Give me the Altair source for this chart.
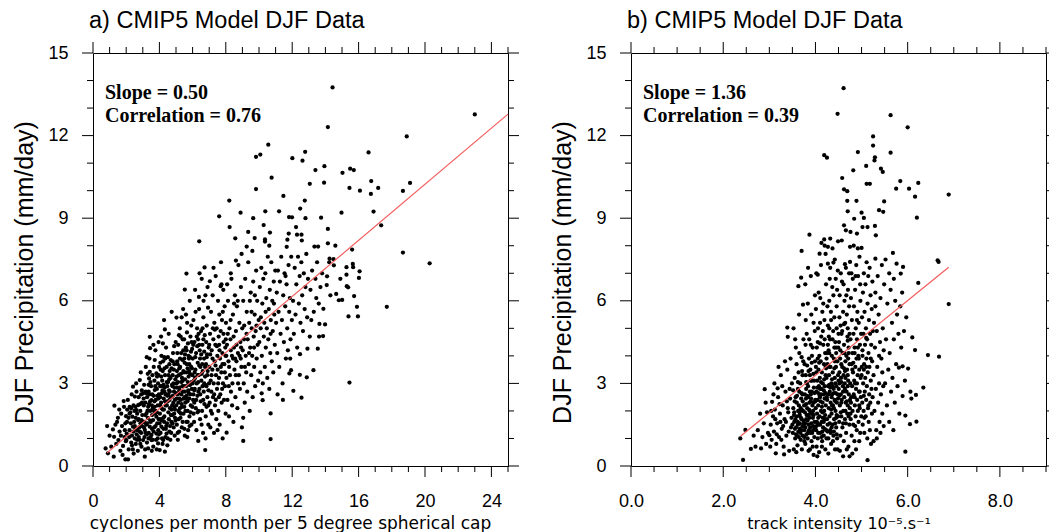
import altair as alt
import pandas as pd

# ---------------- data ----------------
# panel a: (cyclones per month per 5 degree cap, DJF precipitation mm/day)
a_points = [
    (0.76,0.64),(0.85,1.45),(0.9,0.46),(1.0,1.1),(1.2,1.33),(1.25,0.34),(1.27,1.06),(1.29,2.19),(1.4,0.8),(1.45,1.6),
    (1.53,0.94),(1.6,1.25),(1.65,0.55),(1.7,1.9),(1.75,1.45),(1.81,0.73),(1.85,2.36),(1.87,2.15),(1.9,1.05),(1.95,0.24),
    (1.95,1.55),(1.99,1.81),(1.98,0.9),(1.5,1.75),(1.1,0.7),(1.35,1.5),(1.68,1.1),(1.78,0.4),(1.92,1.3),(1.58,2.05),
    (2.01,0.94),(2.03,1.18),(2.11,0.24),(2.21,2.15),(2.37,1.79),(2.41,1.43),(2.41,2.88),(2.52,2.52),(2.52,1.0),(2.62,2.03),
    (2.72,1.67),(2.72,2.21),(2.82,1.25),(2.82,3.12),(2.92,1.67),(2.92,0.7),(2.05,1.6),(2.1,2.4),(2.15,0.6),(2.2,1.3),
    (2.25,1.95),(2.3,0.85),(2.33,2.6),(2.35,1.1),(2.45,0.45),(2.48,1.6),(2.5,2.0),(2.55,1.35),(2.58,0.8),(2.6,3.0),
    (2.63,1.15),(2.66,1.9),(2.7,0.55),(2.75,2.5),(2.78,1.4),(2.8,0.95),(2.85,2.0),(2.88,3.4),(2.9,1.2),(2.95,2.3),
    (2.97,1.85),(2.14,1.75),(2.28,1.55),(2.44,2.2),(2.57,1.75),(2.68,1.3),(2.86,1.55),(2.06,2.05),(2.4,0.6),(2.62,2.7),
    (2.76,1.05),(2.94,2.75),(2.18,1.05),(2.52,1.45),(2.84,2.25),
    (3.02,0.94),(3.02,2.64),(3.12,0.34),(3.12,1.31),(3.22,1.91),(3.22,2.64),(3.32,2.15),(3.32,0.64),(3.38,3.18),(3.42,3.42),
    (3.42,4.69),(3.44,4.28),(3.42,1.43),(3.52,2.39),(3.52,0.94),(3.52,1.13),(3.62,1.67),(3.72,2.76),(3.72,2.15),(3.72,3.85),
    (3.82,1.18),(3.82,3.36),(3.82,1.79),(3.92,0.82),(3.92,3.0),(3.98,3.6),(3.05,1.6),(3.08,2.95),(3.1,1.05),(3.15,2.3),
    (3.18,3.6),(3.2,1.5),(3.25,0.85),(3.28,2.0),(3.3,1.75),(3.35,2.7),(3.36,1.2),(3.4,3.9),(3.45,2.0),(3.48,1.6),
    (3.5,2.9),(3.55,1.35),(3.58,3.3),(3.6,2.1),(3.63,0.7),(3.65,2.55),(3.68,1.4),(3.7,3.1),(3.74,1.9),(3.76,4.2),
    (3.78,2.4),(3.8,0.95),(3.85,2.8),(3.87,1.55),(3.9,2.2),(3.93,1.3),(3.95,4.5),(3.97,2.6),(3.06,2.2),(3.16,1.2),
    (3.26,2.5),(3.34,1.0),(3.46,3.05),(3.56,1.85),(3.66,3.6),(3.76,2.0),(3.86,3.25),(3.96,1.7),(3.14,0.6),(3.54,0.55),
    (3.24,3.95),(3.64,4.4),(3.84,0.6),(3.44,2.35),(3.94,2.45),
    (3.07,1.4),(3.17,2.7),(3.27,1.55),(3.37,2.25),(3.47,1.05),(3.57,2.6),(3.67,2.0),(3.77,1.45),(3.87,2.55),(3.97,1.15),
    (4.02,0.58),(4.1,4.7),(4.12,1.43),(4.23,0.94),(4.33,0.52),(4.33,4.96),(4.43,1.18),(4.03,1.9),(4.05,2.9),(4.07,1.2),
    (4.08,3.5),(4.1,2.3),(4.12,4.0),(4.14,1.65),(4.15,2.65),(4.17,3.1),(4.19,0.8),(4.2,2.05),(4.22,3.8),(4.24,1.35),
    (4.26,2.45),(4.28,5.3),(4.3,1.8),(4.32,2.85),(4.34,3.3),(4.36,1.05),(4.38,2.2),(4.4,4.3),(4.42,2.6),(4.44,3.6),
    (4.46,1.55),(4.48,0.75),(4.5,2.35),(4.52,3.05),(4.54,1.95),(4.56,4.8),(4.58,2.75),(4.6,1.25),(4.62,3.45),(4.64,2.1),
    (4.66,0.95),(4.68,3.85),(4.7,2.5),(4.72,1.6),(4.74,5.6),(4.76,2.95),(4.78,1.85),(4.8,3.3),(4.82,4.1),(4.84,2.3),
    (4.86,1.4),(4.88,2.7),(4.9,3.7),(4.92,1.1),(4.94,2.05),(4.96,3.15),(4.98,4.5),(4.05,2.5),(4.11,3.25),(4.16,1.0),
    (4.21,4.45),(4.27,2.05),(4.31,3.55),(4.37,2.6),(4.41,1.45),(4.47,2.9),(4.51,3.95),(4.57,1.7),(4.61,2.4),(4.67,3.2),
    (4.71,1.2),(4.77,2.2),(4.81,2.55),(4.87,3.5),(4.91,2.85),(4.97,1.65),(4.13,2.1),(4.29,1.6),(4.45,2.2),(4.63,2.7),
    (4.79,1.55),(4.93,2.4),(4.35,3.9),(4.55,3.3),(4.73,3.55),(4.89,4.35),(4.06,3.75),(4.25,2.95),
    (4.09,1.7),(4.19,2.75),(4.29,3.95),(4.39,1.35),(4.49,2.55),(4.59,3.15),(4.69,1.85),(4.79,2.9),(4.89,1.9),(4.99,2.65),
    (5.03,5.39),(5.53,6.41),(5.63,6.99),(5.01,2.2),(5.03,3.0),(5.05,1.5),(5.07,3.8),(5.09,2.6),(5.11,0.95),(5.13,4.4),
    (5.15,2.0),(5.17,3.3),(5.19,1.25),(5.21,2.85),(5.23,5.0),(5.25,3.6),(5.27,1.75),(5.29,2.4),(5.31,4.1),(5.33,3.05),
    (5.35,1.4),(5.37,2.15),(5.39,3.85),(5.41,2.7),(5.43,5.7),(5.45,1.9),(5.47,3.4),(5.49,4.6),(5.51,2.5),(5.53,1.1),
    (5.55,3.15),(5.57,2.0),(5.59,4.3),(5.61,2.9),(5.63,1.6),(5.65,3.7),(5.67,5.2),(5.69,2.35),(5.71,3.05),(5.73,1.3),
    (5.75,4.0),(5.77,2.65),(5.79,3.45),(5.81,1.8),(5.83,6.0),(5.85,2.95),(5.87,4.7),(5.89,2.2),(5.91,3.6),(5.93,1.5),
    (5.95,2.8),(5.97,4.25),(5.99,3.3),(5.04,2.45),(5.08,4.1),(5.12,3.05),(5.16,1.7),(5.2,3.55),(5.24,2.1),(5.28,4.7),
    (5.32,2.6),(5.36,3.2),(5.4,1.6),(5.44,4.2),(5.48,2.9),(5.52,3.75),(5.56,2.3),(5.6,5.5),(5.64,2.55),(5.68,1.05),
    (5.72,4.45),(5.76,3.25),(5.8,2.45),(5.84,3.95),(5.88,1.95),(5.92,5.1),(5.96,3.55),(5.06,3.45),(5.14,2.3),(5.22,1.95),
    (5.3,3.35),(5.38,2.9),(5.46,2.45),(5.54,4.05),(5.62,3.4),(5.7,2.0),(5.78,3.9),(5.86,2.6),(5.94,3.05),(5.18,4.75),
    (5.34,5.4),(5.5,1.35),(5.66,4.85),(5.82,1.45),(5.98,2.15),
    (5.1,3.7),(5.2,2.75),(5.3,1.9),(5.4,3.1),(5.5,3.9),(5.6,2.45),(5.7,3.55),(5.8,2.95),(5.9,4.15),(5.05,2.85),
    (6.34,0.91),(6.4,8.16),(6.38,6.14),(6.72,7.21),(6.76,0.58),(6.01,3.9),(6.03,2.4),(6.05,5.3),(6.07,3.1),(6.09,1.6),
    (6.11,4.5),(6.13,2.8),(6.15,6.4),(6.17,3.5),(6.19,2.1),(6.21,4.1),(6.23,1.3),(6.25,3.0),(6.27,5.0),(6.29,2.55),
    (6.31,3.75),(6.33,4.6),(6.35,2.0),(6.37,3.3),(6.39,5.7),(6.41,2.8),(6.43,4.2),(6.45,1.7),(6.47,3.6),(6.49,2.35),
    (6.51,4.9),(6.53,3.1),(6.55,6.8),(6.57,2.0),(6.59,4.4),(6.61,3.45),(6.63,1.2),(6.65,5.4),(6.67,2.7),(6.69,3.9),
    (6.71,2.25),(6.73,4.75),(6.75,3.25),(6.77,6.2),(6.79,1.8),(6.81,3.7),(6.83,2.9),(6.85,5.1),(6.87,4.05),(6.89,2.5),
    (6.91,3.45),(6.93,5.75),(6.95,1.5),(6.97,4.3),(6.99,3.0),(6.04,4.4),(6.1,2.75),(6.16,3.95),(6.22,2.4),(6.28,4.35),
    (6.34,3.05),(6.4,3.65),(6.46,2.6),(6.52,4.05),(6.58,3.7),(6.64,2.4),(6.7,4.15),(6.76,2.95),(6.82,4.5),(6.88,3.3),
    (6.94,2.2),(6.06,1.9),(6.18,5.6),(6.3,1.95),(6.42,7.0),(6.54,1.5),(6.66,6.0),(6.78,1.0),(6.9,6.5),(6.12,3.4),
    (6.36,4.8),(6.6,5.0),(6.84,2.15),
    (7.04,6.71),(7.6,9.07),(7.69,6.53),(7.01,3.6),(7.03,2.3),(7.05,4.8),(7.07,1.4),(7.09,3.1),(7.11,5.6),(7.13,2.7),
    (7.15,4.2),(7.17,1.9),(7.19,3.5),(7.21,6.2),(7.23,2.5),(7.25,4.6),(7.27,3.0),(7.29,1.2),(7.31,5.2),(7.33,3.8),
    (7.35,2.2),(7.37,4.4),(7.39,6.9),(7.41,3.3),(7.43,1.7),(7.45,5.0),(7.47,2.8),(7.49,4.0),(7.51,3.5),(7.53,6.0),
    (7.55,2.0),(7.57,4.7),(7.59,3.2),(7.61,5.5),(7.63,1.5),(7.65,3.9),(7.67,2.6),(7.69,4.9),(7.71,7.4),(7.73,3.4),
    (7.75,2.3),(7.77,5.3),(7.79,4.1),(7.81,1.0),(7.83,3.0),(7.85,6.4),(7.87,4.5),(7.89,2.4),(7.91,3.7),(7.93,5.8),
    (7.95,2.9),(7.97,4.3),(7.99,1.9),(7.06,4.05),(7.14,3.3),(7.22,5.0),(7.3,2.6),(7.38,3.65),(7.46,4.35),(7.54,3.0),
    (7.62,4.2),(7.7,3.6),(7.78,2.8),(7.86,4.8),(7.94,3.4),(7.1,2.0),(7.34,4.95),(7.58,2.5),(7.82,5.6),(7.26,7.2),
    (7.5,1.3),(7.74,6.6),(7.98,4.0),
    (8.05,1.21),(8.21,9.64),(8.23,8.68),(8.57,8.27),(8.61,7.46),(8.89,9.2),(8.01,5.2),(8.04,3.2),(8.07,4.4),(8.1,2.4),
    (8.13,6.0),(8.16,3.8),(8.19,1.8),(8.22,5.0),(8.25,3.3),(8.28,4.6),(8.31,2.7),(8.34,6.8),(8.37,4.0),(8.4,3.0),
    (8.43,5.5),(8.46,1.6),(8.49,4.3),(8.52,3.5),(8.55,6.2),(8.58,2.5),(8.61,4.9),(8.64,3.8),(8.67,5.8),(8.7,2.1),
    (8.73,4.1),(8.76,7.3),(8.79,3.3),(8.82,5.2),(8.85,2.8),(8.88,4.5),(8.91,6.5),(8.94,3.6),(8.97,1.4),(8.99,5.0),
    (8.03,4.0),(8.12,4.8),(8.2,3.6),(8.29,5.3),(8.38,2.2),(8.47,4.7),(8.56,3.9),(8.65,4.4),(8.74,3.0),(8.83,4.0),
    (8.92,4.3),(8.08,6.6),(8.3,7.0),(8.5,5.9),(8.72,6.0),(8.95,7.7),(8.18,2.9),(8.44,3.9),
    (9.05,0.91),(9.05,1.75),(9.26,7.97),(9.6,7.81),(9.74,8.28),(9.82,11.23),(9.82,10.06),(9.02,4.2),(9.05,6.0),(9.08,3.0),
    (9.11,5.1),(9.14,2.3),(9.17,6.8),(9.2,4.0),(9.23,3.4),(9.26,5.6),(9.29,2.7),(9.32,4.6),(9.35,7.4),(9.38,3.7),
    (9.41,5.2),(9.44,2.0),(9.47,4.3),(9.5,6.3),(9.53,3.3),(9.56,5.0),(9.59,4.0),(9.62,2.5),(9.65,6.7),(9.68,4.7),
    (9.71,3.6),(9.74,5.5),(9.77,2.9),(9.8,4.9),(9.83,7.1),(9.86,3.9),(9.89,6.0),(9.92,4.4),(9.95,3.1),(9.98,5.3),
    (9.1,4.6),(9.25,4.8),(9.4,4.1),(9.55,5.6),(9.7,4.3),(9.85,5.1),(9.15,3.6),(9.45,6.0),(9.75,6.2),(9.35,8.5),(9.65,9.0),
    (10.08,11.31),(10.16,2.64),(10.22,2.39),(10.28,8.75),(10.36,8.23),(10.36,8.15),(10.38,9.25),(10.56,11.67),(10.62,8.0),(10.66,8.48),
    (10.7,1.91),(10.7,0.98),(10.76,10.47),(10.02,4.5),(10.05,6.5),(10.08,3.4),(10.11,5.4),(10.14,7.2),(10.17,4.0),(10.2,5.9),
    (10.23,3.0),(10.26,6.8),(10.29,4.7),(10.32,5.2),(10.35,3.6),(10.38,7.0),(10.41,4.3),(10.44,6.1),(10.47,5.0),(10.5,3.2),
    (10.53,7.6),(10.56,4.6),(10.59,5.7),(10.62,2.8),(10.65,6.4),(10.68,4.1),(10.71,5.3),(10.74,7.4),(10.77,3.8),(10.8,6.0),
    (10.83,4.9),(10.86,3.4),(10.89,6.7),(10.92,5.5),(10.95,4.4),(10.98,7.1),(10.1,5.0),(10.4,5.6),(10.7,4.8),(10.9,5.9),
    (11.21,9.25),(11.47,9.81),(11.67,7.96),(11.71,8.22),(11.79,8.44),(11.81,9.04),(11.83,3.36),(11.93,3.48),(11.99,9.03),(11.03,5.2),
    (11.07,6.3),(11.1,4.1),(11.14,7.1),(11.18,5.6),(11.22,3.6),(11.26,6.7),(11.3,4.8),(11.34,7.6),(11.38,5.3),(11.42,3.0),
    (11.46,6.2),(11.5,4.5),(11.54,7.0),(11.58,5.8),(11.62,3.9),(11.66,6.6),(11.7,5.0),(11.74,4.2),(11.78,7.3),(11.82,5.6),
    (11.86,6.1),(11.9,4.6),(11.94,7.6),(11.98,5.3),(11.12,2.6),(11.44,2.4),(11.6,6.9),(11.88,3.9),
    (12.01,11.18),(12.07,2.73),(12.23,8.68),(12.29,8.4),(12.46,3.31),(12.47,4.06),(12.48,9.35),(12.56,8.4),(12.56,2.48),(12.58,8.19),
    (12.62,11.09),(12.76,9.64),(12.78,11.41),(12.8,9.0),(12.88,3.22),(12.92,4.26),(12.05,6.0),(12.1,4.8),(12.15,7.2),(12.2,5.5),
    (12.25,6.6),(12.3,4.3),(12.35,7.6),(12.4,5.9),(12.45,6.9),(12.5,5.2),(12.55,7.4),(12.6,6.2),(12.65,4.9),(12.7,7.0),
    (12.75,5.7),(12.8,6.5),(12.85,7.7),(12.9,5.4),(12.95,6.8),
    (13.06,10.25),(13.06,4.7),(13.28,3.48),(13.34,7.97),(13.4,10.75),(13.54,4.26),(13.56,7.97),(13.6,5.9),(13.62,4.7),(13.64,5.16),
    (13.74,9.02),(13.86,4.72),(13.88,5.71),(13.92,10.29),(13.94,10.89),(13.98,5.14),(13.1,6.4),(13.2,7.1),(13.3,5.6),(13.4,6.8),
    (13.5,7.4),(13.7,6.5),(13.8,7.0),(13.15,5.3),(13.45,6.1),
    (14.08,6.57),(14.1,6.89),(14.15,8.61),(14.15,8.09),(14.15,12.31),(14.23,7.4),(14.25,7.53),(14.43,13.75),(14.49,7.51),(14.51,7.29),
    (14.65,6.25),(14.81,6.02),(14.97,9.2),(15.01,6.03),(15.03,10.65),(15.27,7.22),(15.27,6.95),(15.29,6.53),(15.37,6.49),(15.39,5.43),
    (15.45,10.1),(15.45,3.03),(15.49,10.8),(15.61,7.86),(15.65,7.34),(15.67,7.22),(15.71,10.75),(15.73,6.17),(15.9,5.78),(15.96,5.43),
    (16.02,6.83),(16.06,7.07),(16.08,10.0),(16.6,11.39),(16.74,9.88),(16.76,10.35),(16.9,9.24),(17.18,10.1),(17.36,8.74),(17.7,5.78),
    (18.67,9.99),(18.67,7.75),(18.9,11.97),(19.1,10.28),(20.28,7.36),(23.0,12.77),(14.3,6.2),(14.6,8.0),(14.9,6.8),
    # extra points in the dense core
    (2.2,1.9),(2.35,0.75),(2.45,1.25),(2.55,2.15),(2.65,0.95),(2.75,1.7),(2.85,0.8),(2.95,1.45),(3.05,2.45),(3.15,1.85),
    (3.25,1.15),(3.35,2.95),(3.45,1.65),(3.55,2.2),(3.65,1.25),(3.75,2.9),(3.85,1.95),(3.95,3.3),(4.04,2.2),(4.14,2.9),
    (4.24,1.75),(4.34,2.35),(4.44,3.05),(4.54,2.6),(4.64,1.45),(4.74,2.05),(4.84,3.0),(4.94,1.75),(5.04,3.25),(5.14,2.65),
    (5.24,3.9),(5.34,2.25),(5.44,3.45),(5.54,2.7),(5.64,4.2),(5.74,2.75),(5.84,3.35),(5.94,4.5),(6.05,2.6),(6.15,3.2),
    (6.25,4.7),(6.35,2.7),(6.45,3.9),(6.55,3.35),(6.65,4.6),(6.75,3.6),(6.85,3.95),(6.95,2.75),(2.3,2.1),(2.9,2.6),
    (3.3,3.35),(3.6,0.95),(3.9,1.0),(4.2,3.45),(4.5,1.0),(4.8,3.8),(5.1,1.2),(5.4,4.6),(5.7,1.6),(6.0,3.0),
    (6.3,3.3),(6.6,2.9),(3.1,1.6),(3.4,2.6),(3.7,2.35),(4.0,1.55),(4.3,2.7),(4.6,3.7),(4.9,2.15),(5.2,2.45),
    (5.5,2.15),(5.8,3.7),(6.1,2.3),(6.4,4.4),(6.7,3.0),(7.0,4.4),(7.2,3.9),(7.4,2.4),(7.6,4.4),(7.8,3.7),
    (8.0,4.6),(8.3,4.2),(8.6,3.3),(8.9,3.9),
]

# panel b: (track intensity 1e-5 s-1, DJF precipitation mm/day)
b_points = [
    (2.37,1.0),(2.43,0.22),(2.48,1.31),(2.82,0.64),(2.9,2.79),(2.6,0.62),(2.7,0.7),(2.75,1.3),(2.85,1.05),(2.88,1.55),
    (2.93,0.8),(2.95,1.95),(2.97,1.2),(2.92,2.3),(2.8,1.9),(2.66,1.1),
    (3.0,1.12),(3.02,0.7),(3.06,2.33),(3.14,0.46),(3.18,2.82),(3.32,0.42),(3.39,5.03),(3.4,4.69),(3.03,1.5),(3.05,0.95),
    (3.08,1.8),(3.1,1.25),(3.12,2.05),(3.15,0.8),(3.17,1.55),(3.19,2.5),(3.21,1.05),(3.23,1.9),(3.25,3.3),(3.27,1.35),
    (3.29,2.2),(3.31,0.7),(3.33,1.7),(3.35,2.7),(3.37,1.1),(3.39,3.5),(3.41,1.95),(3.43,0.55),(3.45,2.45),(3.47,1.4),
    (3.49,3.0),(3.04,2.0),(3.11,3.0),(3.16,1.15),(3.22,2.25),(3.26,0.95),(3.3,1.45),(3.34,3.8),(3.38,2.35),(3.42,1.25),
    (3.46,3.9),(3.48,1.75),(3.13,1.7),(3.28,2.9),(3.36,1.6),(3.44,2.8),(3.2,3.6),(3.09,2.6),(3.24,1.6),(3.4,2.1),
    (3.56,4.6),(3.63,6.53),(3.69,6.84),(3.7,7.81),(3.73,5.86),(3.51,1.2),(3.52,2.1),(3.53,0.6),(3.54,1.6),(3.55,3.2),
    (3.56,1.0),(3.57,2.5),(3.58,1.4),(3.59,3.7),(3.6,1.8),(3.61,0.75),(3.62,2.8),(3.63,1.25),(3.64,2.2),(3.65,4.1),
    (3.66,1.55),(3.67,3.0),(3.68,0.95),(3.69,2.45),(3.7,1.7),(3.71,3.45),(3.72,1.1),(3.73,2.0),(3.74,4.6),(3.745,1.45),
    (3.515,2.75),(3.535,1.85),(3.555,1.35),(3.575,4.3),(3.595,2.3),(3.615,1.6),(3.635,3.4),(3.655,1.95),(3.675,1.2),(3.695,2.65),
    (3.715,1.45),(3.735,3.8),(3.525,5.0),(3.585,0.5),(3.645,5.5),(3.705,0.6),(3.565,1.7),(3.625,2.0),(3.685,1.75),(3.725,2.35),
    (3.58,1.15),(3.62,1.5),(3.66,1.85),(3.7,1.3),(3.74,1.65),(3.6,2.55),(3.68,2.1),(3.54,1.95),(3.64,1.05),(3.72,2.6),
    (3.87,8.4),(3.76,1.3),(3.77,2.6),(3.78,0.8),(3.79,3.3),(3.8,1.7),(3.81,4.8),(3.82,2.1),(3.83,1.0),(3.84,2.9),
    (3.85,1.5),(3.86,3.9),(3.87,2.3),(3.88,0.6),(3.89,3.5),(3.9,1.9),(3.91,5.5),(3.92,2.7),(3.93,1.2),(3.94,4.3),
    (3.95,2.0),(3.96,0.4),(3.97,3.1),(3.98,1.6),(3.99,6.2),(3.755,2.2),(3.765,3.7),(3.775,1.55),(3.785,4.4),(3.795,2.45),
    (3.805,1.15),(3.815,3.0),(3.825,1.85),(3.835,5.9),(3.845,2.5),(3.855,1.25),(3.865,4.6),(3.875,2.0),(3.885,1.4),(3.895,3.1),
    (3.905,2.45),(3.915,0.9),(3.925,4.0),(3.935,2.2),(3.945,1.75),(3.955,3.35),(3.965,2.85),(3.975,1.05),(3.985,4.9),(3.995,2.4),
    (3.77,1.95),(3.8,2.8),(3.83,1.65),(3.86,2.05),(3.89,1.2),(3.92,3.75),(3.95,1.45),(3.98,2.65),(3.78,6.6),(3.84,7.2),
    (3.9,6.9),(3.96,5.2),(3.82,3.65),(3.88,2.7),(3.94,0.7),(3.76,0.9),(3.99,3.8),(3.91,1.55),(3.85,0.55),(3.79,5.3),
    (3.78,1.4),(3.81,1.85),(3.84,1.2),(3.87,1.75),(3.9,2.35),(3.93,1.9),(3.96,2.3),(3.99,1.35),(3.8,3.05),(3.88,3.3),
    (4.05,6.95),(4.09,7.71),(4.19,8.23),(4.19,11.29),(4.25,11.2),(4.005,2.1),(4.01,3.6),(4.015,1.3),(4.02,2.7),(4.025,0.7),
    (4.03,4.3),(4.035,1.9),(4.04,3.1),(4.045,2.4),(4.05,1.0),(4.055,5.0),(4.06,2.2),(4.065,3.5),(4.07,1.5),(4.075,2.9),
    (4.08,0.5),(4.085,4.0),(4.09,1.8),(4.095,3.2),(4.1,2.5),(4.105,6.1),(4.11,1.2),(4.115,3.8),(4.12,2.0),(4.125,4.7),
    (4.13,2.8),(4.135,1.6),(4.14,3.4),(4.145,0.9),(4.15,5.6),(4.155,2.3),(4.16,3.0),(4.165,1.4),(4.17,4.4),(4.175,2.6),
    (4.18,1.1),(4.185,3.7),(4.19,2.0),(4.195,5.3),(4.2,2.9),(4.205,1.7),(4.21,4.1),(4.215,0.6),(4.22,3.3),(4.225,2.2),
    (4.23,6.6),(4.235,1.3),(4.24,3.9),(4.245,2.5),(4.01,5.7),(4.03,1.6),(4.06,2.65),(4.08,3.75),(4.11,2.35),(4.13,1.05),
    (4.16,4.9),(4.18,2.75),(4.21,1.85),(4.23,3.55),(4.02,7.0),(4.07,6.3),(4.12,7.3),(4.17,5.9),(4.22,7.7),(4.04,0.35),
    (4.14,0.7),(4.24,1.0),(4.09,2.55),(4.19,3.15),(4.15,1.95),(4.05,4.5),(4.2,4.6),(4.1,5.2),(4.13,8.1),(4.2,8.0),
    (4.02,1.45),(4.06,1.75),(4.1,1.5),(4.14,2.15),(4.18,1.6),(4.22,2.65),(4.04,2.85),(4.12,3.05),(4.2,1.35),(4.24,3.2),
    (4.27,7.96),(4.27,7.35),(4.32,8.26),(4.37,7.9),(4.39,7.39),(4.48,12.79),(4.49,8.16),(4.255,2.4),(4.26,3.7),(4.265,1.5),
    (4.27,5.1),(4.275,2.9),(4.28,1.0),(4.285,4.2),(4.29,2.1),(4.295,3.3),(4.3,6.0),(4.305,1.8),(4.31,2.7),(4.315,4.6),
    (4.32,1.3),(4.325,3.6),(4.33,2.3),(4.335,5.6),(4.34,0.8),(4.345,3.0),(4.35,1.9),(4.355,4.0),(4.36,2.6),(4.365,6.5),
    (4.37,1.5),(4.375,3.4),(4.38,2.2),(4.385,4.9),(4.39,1.1),(4.395,2.8),(4.4,3.9),(4.405,1.7),(4.41,5.4),(4.415,2.4),
    (4.42,3.2),(4.425,0.6),(4.43,4.5),(4.435,2.0),(4.44,6.8),(4.445,3.6),(4.45,1.4),(4.455,2.9),(4.46,5.0),(4.465,2.3),
    (4.47,1.0),(4.475,3.8),(4.48,2.6),(4.485,7.1),(4.49,1.8),(4.495,4.3),(4.26,5.8),(4.29,4.7),(4.31,6.8),(4.34,5.3),
    (4.36,3.15),(4.39,6.2),(4.41,4.3),(4.44,2.65),(4.46,5.8),(4.49,3.3),(4.28,0.45),(4.33,1.2),(4.38,0.9),(4.43,1.55),
    (4.48,0.6),(4.3,3.6),(4.35,2.5),(4.4,2.1),(4.45,4.1),(4.42,7.5),(4.32,7.2),(4.47,6.4),(4.27,4.4),(4.37,4.6),(4.43,3.0),
    (4.28,2.6),(4.31,1.55),(4.34,2.05),(4.37,2.9),(4.4,1.25),(4.43,2.35),(4.46,1.85),(4.49,2.45),(4.3,4.1),(4.41,3.55),
    (4.58,10.46),(4.57,8.19),(4.61,13.72),(4.62,10.05),(4.62,8.74),(4.64,7.33),(4.66,8.56),(4.69,9.98),(4.69,9.63),(4.7,9.25),
    (4.75,7.96),(4.75,7.41),(4.505,2.8),(4.51,4.5),(4.515,1.6),(4.52,3.4),(4.525,6.2),(4.53,2.2),(4.535,3.9),(4.54,1.1),
    (4.545,5.1),(4.55,2.6),(4.555,3.2),(4.56,1.8),(4.565,4.8),(4.57,2.4),(4.575,6.7),(4.58,3.6),(4.585,1.4),(4.59,4.1),
    (4.595,2.9),(4.6,5.6),(4.605,2.0),(4.61,3.3),(4.615,0.9),(4.62,4.4),(4.625,2.5),(4.63,6.0),(4.635,3.0),(4.64,1.7),
    (4.645,5.2),(4.65,3.8),(4.655,2.3),(4.66,7.2),(4.665,1.2),(4.67,4.0),(4.675,2.7),(4.68,5.5),(4.685,3.5),(4.69,1.9),
    (4.695,4.7),(4.7,2.2),(4.705,6.4),(4.71,3.1),(4.715,0.7),(4.72,4.3),(4.725,2.6),(4.73,5.8),(4.735,1.5),(4.74,3.7),
    (4.745,2.1),(4.52,5.4),(4.55,7.0),(4.58,4.9),(4.61,6.6),(4.64,2.8),(4.67,6.2),(4.7,5.0),(4.73,7.0),(4.53,0.55),
    (4.6,0.35),(4.68,0.6),(4.74,0.35),(4.56,3.7),(4.63,4.1),(4.71,3.9),
    (4.52,2.55),(4.56,3.05),(4.6,1.55),(4.64,3.45),(4.68,2.35),(4.72,1.8),(4.54,4.2),(4.62,5.15),(4.7,2.9),(4.74,4.8),
    (4.76,8.5),(4.82,10.74),(4.84,8.98),(4.89,9.63),(4.9,8.44),(4.92,11.4),(5.0,7.92),(5.0,9.2),(4.755,3.0),(4.76,4.6),
    (4.765,1.7),(4.77,6.1),(4.775,2.5),(4.78,3.7),(4.785,1.1),(4.79,5.3),(4.795,2.9),(4.8,4.1),(4.805,2.0),(4.81,6.8),
    (4.815,3.4),(4.82,1.5),(4.825,4.8),(4.83,2.6),(4.835,5.8),(4.84,3.1),(4.845,0.9),(4.85,4.3),(4.855,2.2),(4.86,6.4),
    (4.865,3.6),(4.87,1.8),(4.875,5.0),(4.88,2.8),(4.885,7.3),(4.89,3.9),(4.895,1.3),(4.9,4.6),(4.905,2.4),(4.91,5.6),
    (4.915,3.3),(4.92,2.0),(4.925,6.9),(4.93,4.0),(4.935,1.6),(4.94,5.2),(4.945,2.7),(4.95,3.5),(4.955,7.6),(4.96,2.1),
    (4.965,4.4),(4.97,1.2),(4.975,6.0),(4.98,3.2),(4.985,2.5),(4.99,4.8),(4.995,1.8),(4.78,7.0),(4.83,8.0),(4.87,6.9),
    (4.92,7.9),(4.97,6.6),(4.8,0.45),(4.88,0.6),(4.95,0.9),(4.77,2.3),(4.86,3.0),(4.94,3.9),
    (5.02,8.68),(5.05,9.01),(5.1,10.9),(5.11,10.25),(5.13,8.68),(5.13,0.21),(5.18,10.25),(5.25,11.97),(5.25,11.64),(5.005,3.6),
    (5.01,5.4),(5.015,2.3),(5.02,4.2),(5.025,1.5),(5.03,6.3),(5.035,3.0),(5.04,4.8),(5.045,2.0),(5.05,7.0),(5.055,3.7),
    (5.06,1.2),(5.065,5.6),(5.07,2.7),(5.075,4.4),(5.08,3.2),(5.085,6.6),(5.09,1.8),(5.095,5.0),(5.1,2.4),(5.105,3.9),
    (5.11,7.4),(5.115,2.9),(5.12,4.6),(5.125,1.0),(5.13,5.9),(5.135,3.4),(5.14,2.1),(5.145,6.9),(5.15,4.1),(5.155,1.6),
    (5.16,5.3),(5.165,2.6),(5.17,3.6),(5.175,7.2),(5.18,1.3),(5.185,4.8),(5.19,2.3),(5.195,6.2),(5.2,3.1),(5.205,0.8),
    (5.21,4.4),(5.215,2.8),(5.22,5.7),(5.225,1.9),(5.23,3.8),(5.235,6.7),(5.24,2.5),(5.245,4.9),
    (5.28,11.1),(5.29,11.21),(5.29,8.72),(5.31,8.38),(5.3,7.53),(5.38,9.29),(5.42,10.8),(5.46,10.68),(5.47,9.23),(5.49,9.61),
    (5.52,7.5),(5.26,3.3),(5.27,5.2),(5.28,2.0),(5.29,4.3),(5.3,6.3),(5.31,2.8),(5.32,1.3),(5.33,4.9),(5.34,3.6),
    (5.35,6.9),(5.36,2.3),(5.37,5.5),(5.38,3.0),(5.39,1.6),(5.4,4.5),(5.41,6.1),(5.42,2.6),(5.43,3.9),(5.44,7.3),
    (5.45,1.9),(5.46,5.0),(5.47,2.9),(5.48,4.2),(5.49,6.6),(5.26,0.9),(5.33,1.0),(5.41,1.2),(5.48,1.45),(5.3,5.8),
    (5.38,4.0),(5.45,3.4),
    (5.63,12.74),(5.63,11.38),(5.68,7.74),(5.75,10.07),(5.76,7.35),(5.81,3.57),(5.84,10.35),(5.85,6.99),(5.89,3.62),(5.89,2.54),
    (5.9,7.23),(5.95,1.83),(5.95,0.52),(5.51,3.0),(5.53,4.6),(5.55,2.2),(5.56,5.9),(5.58,3.5),(5.6,1.6),(5.61,4.1),
    (5.63,6.4),(5.64,2.7),(5.66,5.2),(5.67,3.2),(5.69,1.3),(5.7,4.6),(5.72,2.3),(5.73,6.0),(5.75,3.7),(5.77,5.5),
    (5.78,2.9),(5.8,4.8),(5.82,1.9),(5.84,5.8),(5.86,4.3),(5.88,6.3),(5.92,4.9),(5.94,3.1),(5.97,5.4),(5.6,7.0),(5.7,6.8),
    (6.0,12.3),(6.01,3.54),(6.03,10.07),(6.05,1.52),(6.06,2.7),(6.08,2.45),(6.1,4.67),(6.16,4.21),(6.16,9.78),(6.18,2.58),
    (6.19,1.61),(6.2,9.02),(6.23,10.28),(6.23,6.65),(6.34,2.85),(6.44,4.03),(6.65,7.47),(6.67,7.41),(6.68,3.97),(6.89,9.86),
    (6.89,5.88),
    # extra points in the dense core
    (3.5,1.5),(3.55,2.35),(3.6,1.1),(3.65,2.7),(3.7,2.05),(3.75,1.55),(3.8,2.25),(3.85,1.85),(3.9,2.6),(3.95,1.3),
    (4.0,2.35),(4.05,1.55),(4.1,2.8),(4.15,1.25),(4.2,2.45),(4.25,1.7),(4.3,2.95),(4.35,1.4),(4.4,2.65),(4.45,1.75),
    (4.5,3.1),(4.55,1.95),(4.6,2.7),(4.65,2.0),(4.7,3.3),(4.75,2.4),(4.8,3.5),(4.85,2.5),(4.9,3.0),(4.95,2.2),
    (5.0,3.3),(5.05,2.55),(5.1,3.6),(5.15,2.2),(5.2,3.9),(3.62,3.05),(3.72,3.3),(3.82,2.55),(3.92,3.1),(4.02,3.4),
    (4.12,2.6),(4.22,3.6),(4.32,2.85),(4.42,3.8),(4.52,3.0),(4.62,3.55),(4.72,4.1),(4.82,3.75),(4.92,4.3),(5.02,4.0),
    (3.66,1.35),(3.76,1.05),(3.86,1.3),(3.96,1.85),(4.06,1.2),(4.16,1.75),(4.26,1.25),(4.36,2.2),(4.46,1.15),(4.56,2.3),
    (4.66,1.55),(4.76,1.9),(4.86,1.45),(4.96,2.7),(5.06,1.75),(3.7,3.95),(3.9,4.4),(4.1,4.45),(4.3,5.0),(4.5,4.8),
    (4.7,4.55),(4.9,5.3),(5.1,4.65),(3.85,3.45),(4.05,3.9),(4.25,4.1),(4.45,4.3),(4.65,3.2),(4.85,4.1),(5.05,3.5),
]

# regression line end points
a_line_x = [0.85, 25.0]
a_line_y = [0.48, 12.78]
b_line_x = [2.38, 6.89]
b_line_y = [1.09, 7.22]

# tick positions
a_x_major = [0, 4, 8, 12, 16, 20, 24]
a_x_minor = [1, 2, 3, 5, 6, 7, 9, 10, 11, 13, 14, 15, 17, 18, 19, 21, 22, 23, 25]
b_x_major = [0, 2, 4, 6, 8]
b_x_minor = [0.5, 1, 1.5, 2.5, 3, 3.5, 4.5, 5, 5.5, 6.5, 7, 7.5, 8.5, 9]
y_major = [0, 3, 6, 9, 12, 15]
y_minor = [1, 2, 4, 5, 7, 8, 10, 11, 13, 14]

SANS = "Liberation Sans"
W, H = 415, 413
MAJOR, MINOR = 11, 6


def tick_layer(values, side, length, xs, ys):
    d = pd.DataFrame({"v": values})
    base = alt.Chart(d).mark_rule(color="black", strokeWidth=1)
    if side == "bottom":
        return base.encode(x=alt.X("v:Q", scale=xs, axis=None), y=alt.value(H), y2=alt.value(H + length))
    if side == "top":
        return base.encode(x=alt.X("v:Q", scale=xs, axis=None), y=alt.value(0), y2=alt.value(-length))
    if side == "left":
        return base.encode(y=alt.Y("v:Q", scale=ys, axis=None), x=alt.value(0), x2=alt.value(-length))
    return base.encode(y=alt.Y("v:Q", scale=ys, axis=None), x=alt.value(W), x2=alt.value(W + length))


def panel(points, lx, ly, xdom, xmaj, xmin, xfmt, xtitle, xtitle_size, title, slope_txt, corr_txt,
          right_major, right_minor, title_x=None):
    df = pd.DataFrame(points, columns=["x", "y"])
    ldf = pd.DataFrame({"x": lx, "y": ly})
    xs = alt.Scale(domain=xdom, nice=False, zero=False)
    ys = alt.Scale(domain=[0, 15], nice=False, zero=False)
    common = dict(domain=False, ticks=False, grid=False, labelOverlap=False, labelFlush=False)
    xb_kw = dict(orient="bottom", values=xmaj, format=xfmt,
                 labelFont=SANS, labelFontSize=18, labelColor="black", labelPadding=26,
                 title=xtitle, titleFont="DejaVu Sans", titleFontSize=xtitle_size,
                 titleFontWeight="normal", titleColor="black", titlePadding=5, **common)
    if title_x is not None:
        xb_kw["titleX"] = title_x
    y_left = alt.Axis(orient="left", values=y_major, format="d",
                      labelFont=SANS, labelFontSize=18, labelColor="black", labelPadding=25,
                      title="DJF Precipitation (mm/day)", titleFont=SANS, titleFontSize=25,
                      titleFontWeight="normal", titleColor="black", titlePadding=10,
                      titleY=219, **common)

    pts = alt.Chart(df).mark_circle(size=18, color="black", opacity=1).encode(
        x=alt.X("x:Q", scale=xs, axis=alt.Axis(**xb_kw)),
        y=alt.Y("y:Q", scale=ys, axis=y_left),
    )
    line = alt.Chart(ldf).mark_line(color="#f25c5c", strokeWidth=1.2).encode(
        x=alt.X("x:Q", scale=xs, axis=None),
        y=alt.Y("y:Q", scale=ys, axis=None),
    )
    ticks = [
        tick_layer(xmaj, "bottom", MAJOR, xs, ys), tick_layer(xmin, "bottom", MINOR, xs, ys),
        tick_layer(xmaj, "top", MAJOR, xs, ys), tick_layer(xmin, "top", MINOR, xs, ys),
        tick_layer(y_major, "left", MAJOR, xs, ys), tick_layer(y_minor, "left", MINOR, xs, ys),
        tick_layer(y_major, "right", right_major, xs, ys), tick_layer(y_minor, "right", right_minor, xs, ys),
    ]
    t1 = alt.Chart(pd.DataFrame({"t": [slope_txt]})).mark_text(
        align="left", baseline="alphabetic", font="Liberation Serif", fontWeight="bold",
        fontSize=20, color="black").encode(x=alt.value(12), y=alt.value(46), text="t:N")
    t2 = alt.Chart(pd.DataFrame({"t": [corr_txt]})).mark_text(
        align="left", baseline="alphabetic", font="Liberation Serif", fontWeight="bold",
        fontSize=20, color="black").encode(x=alt.value(12), y=alt.value(69), text="t:N")
    return alt.layer(pts, line, *ticks, t1, t2).resolve_axis(
        x="independent", y="independent"
    ).properties(
        width=W, height=H,
        title=alt.TitleParams(title, anchor="start", frame="group", font=SANS, fontSize=23.5,
                              fontWeight="normal", color="black", baseline="alphabetic",
                              offset=-10, dx=-4),
    )


pa = panel(a_points, a_line_x, a_line_y, [0, 25], a_x_major, a_x_minor, "d",
           "cyclones per month per 5 degree spherical cap", 17, "a) CMIP5 Model DJF Data",
           "Slope = 0.50", "Correlation = 0.76", MAJOR, MINOR, title_x=197)
pb = panel(b_points, b_line_x, b_line_y, [0, 9], b_x_major, b_x_minor, ".1f",
           "track intensity 10\u207b\u2075.s\u207b\u00b9", 16, "b) CMIP5 Model DJF Data",
           "Slope = 1.36", "Correlation = 0.39", 3, 3)

chart = alt.hconcat(pa, pb, spacing=30).properties(
    padding={"left": 12, "top": 8, "right": 0, "bottom": 0},
    autosize=alt.AutoSizeParams(type="pad"),
    background="white",
).configure_view(stroke="black", strokeWidth=1)

chart.save("out.html", embed_options={"renderer": "svg", "actions": False})
